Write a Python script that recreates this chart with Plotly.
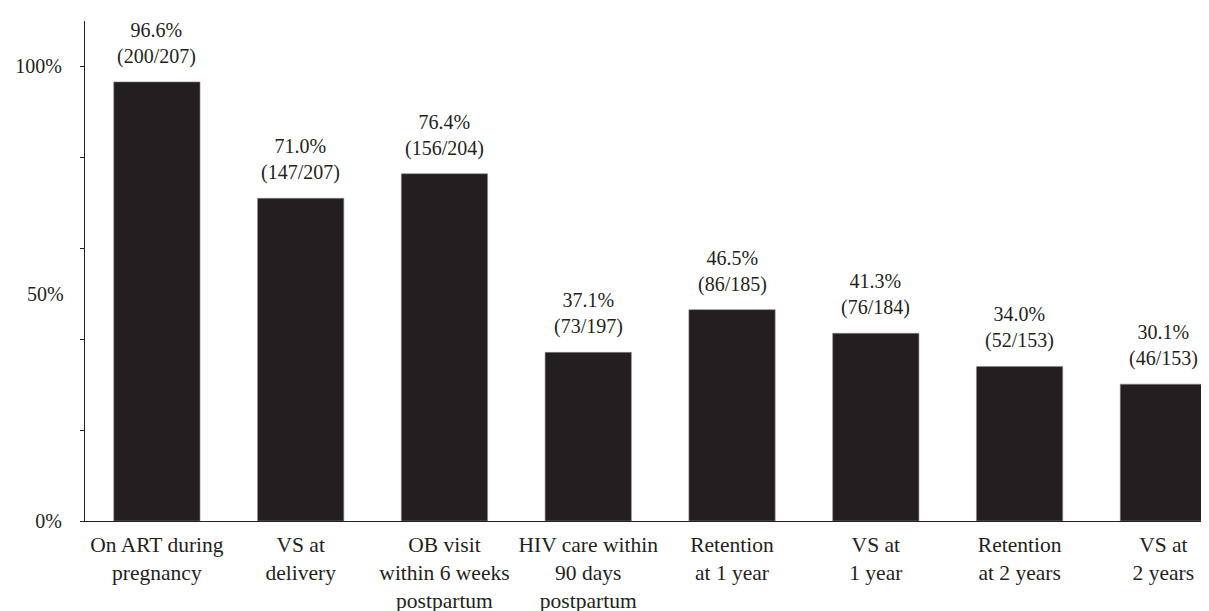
import plotly.graph_objects as go

categories = [
    "On ART during<br>pregnancy",
    "VS at<br>delivery",
    "OB visit<br>within 6 weeks<br>postpartum",
    "HIV care within<br>90 days<br>postpartum",
    "Retention<br>at 1 year",
    "VS at<br>1 year",
    "Retention<br>at 2 years",
    "VS at<br>2 years",
]
percent = [96.6, 71.0, 76.4, 37.1, 46.5, 41.3, 34.0, 30.1]
numerators = [200, 147, 156, 73, 86, 76, 52, 46]
denominators = [207, 207, 204, 197, 185, 184, 153, 153]

y_tickvals = [0, 20, 40, 60, 80, 100]
y_ticktext = ["0%", "", "", "", "", "100%"]

FONT = "Liberation Serif"
INK = "#231f20"

x_idx = list(range(len(categories)))

fig = go.Figure()
fig.add_trace(go.Bar(
    x=x_idx, y=percent,
    marker=dict(color=INK, line=dict(color="#8a8a8a", width=0.6)),
    width=0.6,
    hoverinfo="skip",
))

for i, (p, n, d) in enumerate(zip(percent, numerators, denominators)):
    fig.add_annotation(
        x=i, y=p, xref="x", yref="y",
        text=f"{p:.1f}%<br>({n}/{d})",
        showarrow=False, yanchor="bottom", xanchor="center",
        yshift=12,
        font=dict(family=FONT, size=20, color=INK),
    )

# 50% label (tick marks are at 20% steps, labels at 0/50/100)
fig.add_annotation(
    x=0, xref="paper", xanchor="right", xshift=-19,
    y=50, yref="y", yanchor="middle",
    text="50%", showarrow=False,
    font=dict(family=FONT, size=20, color=INK),
)

fig.update_layout(
    width=1209, height=611,
    margin=dict(l=77, r=0, t=13, b=98, autoexpand=False),
    paper_bgcolor="white", plot_bgcolor="white",
    showlegend=False,
    font=dict(family=FONT, color=INK),
    xaxis=dict(
        range=[-0.5, 7.373], automargin=False,
        tickmode="array", tickvals=x_idx, ticktext=categories,
        showline=True, linecolor=INK, linewidth=1.3,
        ticks="", showgrid=False, zeroline=False,
        tickfont=dict(family=FONT, size=21.5, color=INK),
        ticklabelstandoff=4,
    ),
    yaxis=dict(
        range=[0, 110], automargin=False,
        tickmode="array", tickvals=y_tickvals, ticktext=y_ticktext,
        showline=True, linecolor=INK, linewidth=1.3,
        ticks="outside", ticklen=4, tickwidth=1.3, tickcolor=INK,
        showgrid=False, zeroline=False,
        tickfont=dict(family=FONT, size=20, color=INK),
        ticklabelstandoff=14,
    ),
)

fig.write_html("out.html")
